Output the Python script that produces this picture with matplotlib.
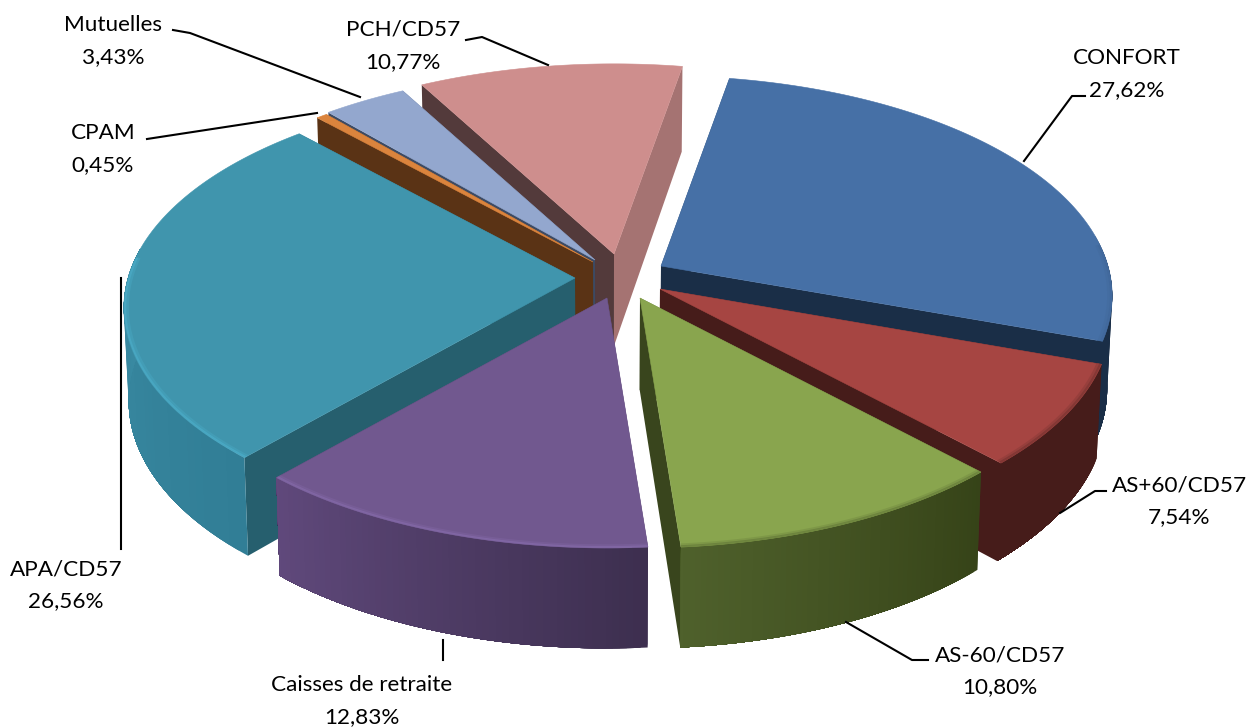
import numpy as np
import matplotlib
matplotlib.use('Agg')
import matplotlib.pyplot as plt
from matplotlib.patches import Polygon
from matplotlib.colors import to_rgb

plt.rcParams['font.family'] = ['Lato', 'DejaVu Sans']

## data, clockwise from the top
names = ['CONFORT', 'AS+60/CD57', 'AS-60/CD57', 'Caisses de retraite',
         'APA/CD57', 'CPAM', 'Mutuelles', 'PCH/CD57']
values = [27.62, 7.54, 10.80, 12.83, 26.56, 0.45, 3.43, 10.77]

## colours of each slice
top_col = ['#4670a6', '#a64542', '#89a54e', '#71588f', '#4095ad', '#db843d', '#93a7ce', '#ce8e8d']
start_cut = ['#1a2e47', '#461c1a', '#39451d', '#3d2f4f', '#265f6e', '#5a3315', '#3d4a62', '#533a3b']
end_cut = ['#1a2e47', '#461c1a', '#39451d', '#3d2f4f', '#265f6e', '#5a3315', '#3d4a62', '#a57372']
wall_left = ['#1a2e47', '#461c1a', '#4f612c', '#60497c', '#3a8ba3', '#5a3315', '#3d4a62', '#533a3b']
wall_right = ['#1a2e47', '#461c1a', '#364318', '#3d2f4f', '#317e96', '#5a3315', '#3d4a62', '#533a3b']
rim_col = ['#3f6596', '#6b2e2c', '#5f7236', '#8a6fb0', '#4fb5d2', '#db843d', '#93a7ce', '#ce8e8d']

## apex of every slice (exploded pie), in pixels
apex_x = [661, 660, 640, 607, 575, 593, 595, 614]
apex_y = [266, 289, 298, 298, 278, 262, 260, 254]

a = 447.0
b = 216.0
k = 0.136
start = 10.0
x_mid = 610.0

fig = plt.figure(figsize=(12.5, 7.27), dpi=100)
ax = fig.add_axes([0, 0, 1, 1])
ax.set_xlim(0, 1250)
ax.set_ylim(727, 0)
ax.axis('off')


def project(th, r, px, py, down=False):
    u = r * np.cos(th)
    v = r * np.sin(th)
    s = 1 / (1 + k * u)
    x = px + a * v * s
    y = py - b * u * s
    if down:
        y = y + 92 * s ** 0.6
        x = x_mid + (x - x_mid) * 0.99
    return np.array([x, y]).T


def mix(c1, c2, t):
    c1 = np.array(to_rgb(c1))
    c2 = np.array(to_rgb(c2))
    return c1 + (c2 - c1) * t


## angles come from the values
shares = np.array(values) / sum(values) * 360
ends = start + np.cumsum(shares)
starts = ends - shares

## back slices first
order = [7, 6, 5, 0, 4, 1, 3, 2]

for n, i in enumerate(order):
    px, py = apex_x[i], apex_y[i]
    t0, t1 = np.radians(starts[i]), np.radians(ends[i])
    th = np.linspace(t0, t1, 120)
    z = 1 + n * 3

    # cut faces
    for t, col in [(t0, start_cut[i]), (t1, end_cut[i])]:
        pts = [project(t, 0.0, px, py), project(t, 1.0, px, py),
               project(t, 1.0, px, py, True), project(t, 0.0, px, py, True)]
        ax.add_patch(Polygon(pts, closed=True, fc=col, ec='none', zorder=z))

    # outer wall, bands overlap so no seams show
    front = th[np.cos(th) < 0.15]
    for j in range(0, max(len(front) - 1, 0), 2):
        col = mix(wall_right[i], wall_left[i], j / (len(front) - 1))
        part = front[j:]
        pts = np.vstack([project(part, 1.0, px, py), project(part[::-1], 1.0, px, py, True)])
        ax.add_patch(Polygon(pts, closed=True, fc=col, ec='none', zorder=z + 1))

    # top
    arc = project(th, 1.0, px, py)
    pts = np.vstack([[project(t0, 0.0, px, py)], arc])
    ax.add_patch(Polygon(pts, closed=True, fc=top_col[i], ec=top_col[i], lw=0.4, zorder=z + 2))

    # soft bevel along the rim
    near = th[np.cos(th) < 0.1]
    if len(near) > 1:
        for r, al, lw in [(0.997, 0.55, 1.5), (0.992, 0.25, 2.0)]:
            line = project(near, r, px, py)
            ax.plot(line[:, 0], line[:, 1], color=rim_col[i], alpha=al, lw=lw,
                    solid_capstyle='butt', zorder=z + 2)

## labels and leader lines
label_x = [1127, 1179, 1000, 362, 66, 103, 113, 403]
label_y = [58, 485, 655, 685, 569, 133, 25, 30]
leader_x = [[1024, 1072, 1085], [1060, 1095, 1106], [846, 912, 928], [443, 443],
            [121, 121], [147, 160, 317], [173, 190, 360], [466, 482, 548]]
leader_y = [[161, 96, 96], [513, 491, 491], [622, 660, 660], [640, 660],
            [278, 549], [139, 137, 113], [30, 33, 97], [40, 37, 65]]

for i in range(len(names)):
    ax.plot(leader_x[i], leader_y[i], color='black', lw=1.5, zorder=60)
    ax.text(label_x[i], label_y[i], names[i], ha='center', va='center', fontsize=16.2, color='black', zorder=61)
    pct = f'{values[i]:.2f}%'.replace('.', ',')
    ax.text(label_x[i], label_y[i] + 32, pct, ha='center', va='center', fontsize=16.2, color='black', zorder=61)

fig.savefig('out.png', dpi=100)
